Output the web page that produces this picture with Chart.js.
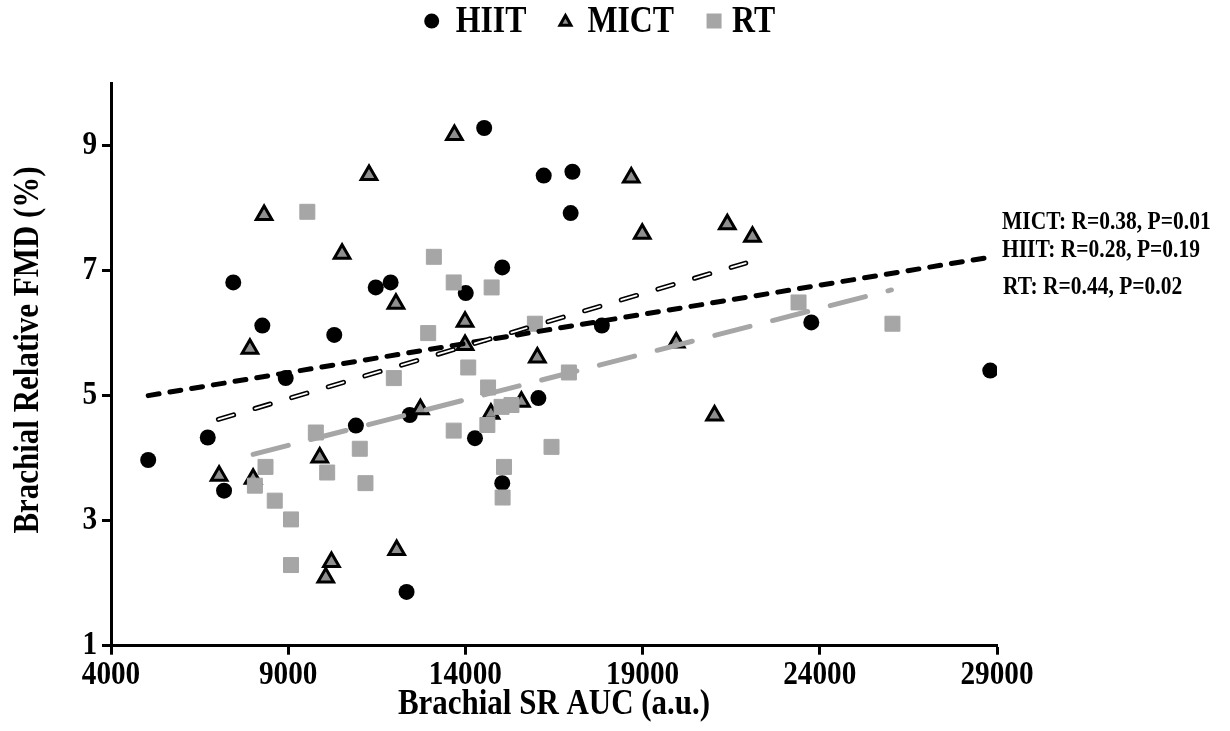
<!DOCTYPE html>
<html>
<head>
<meta charset="utf-8">
<script src="https://cdn.jsdelivr.net/npm/chart.js@4.4.1/dist/chart.umd.min.js"></script>
<style>
html,body{margin:0;padding:0;background:#fff;}
#wrap{position:relative;width:1230px;height:731px;}
</style>
</head>
<body>
<div id="wrap"><canvas id="c" width="1230" height="731"></canvas></div>
<script>
// ---------- data ----------
const seriesNames = ['HIIT', 'MICT', 'RT'];

const hiitX = [5050, 6730, 7190, 7450, 8270, 8930, 10300, 10910, 11470, 11890, 12340, 12430,
               14010, 14270, 14530, 15040, 15040, 16060, 16210, 16970, 17020, 17850, 23760, 28810];
const hiitY = [3.97, 4.33, 3.48, 6.81, 6.12, 5.28, 5.97, 4.52, 6.73, 6.81, 1.86, 4.69,
               6.64, 4.32, 9.28, 7.05, 3.60, 4.96, 8.52, 7.92, 8.58, 6.12, 6.17, 5.40];

const mictX = [7050, 7920, 8010, 8320, 9890, 10060, 10220, 10520, 11280, 12040, 12060, 12730,
               13690, 13990, 13990, 14720, 15580, 16030, 18680, 18990, 19950, 21030, 21390, 22100];
const mictY = [3.72, 5.75, 3.67, 7.89, 4.01, 2.09, 2.34, 7.27, 8.53, 6.47, 2.53, 4.78,
               9.17, 6.18, 5.81, 4.71, 4.90, 5.61, 8.49, 7.59, 5.85, 4.68, 7.74, 7.54];

const rtX = [8060, 8360, 8620, 9080, 9080, 9540, 9780, 10100, 11020, 11180, 11980, 12950, 13110, 13670,
             13670, 14080, 14620, 14640, 14740, 15020, 15300, 15090, 15050, 15960, 16430, 16920, 23400, 26050];
const rtY = [3.56, 3.86, 3.32, 3.02, 2.29, 7.94, 4.41, 3.77, 4.15, 3.60, 5.28, 6.00, 7.22, 6.81,
             4.44, 5.45, 4.53, 5.13, 6.73, 4.82, 4.85, 3.86, 3.37, 6.15, 4.18, 5.37, 6.49, 6.15];

// trend line end points
const hiitFitX = [5050, 28870];
const hiitFitY = [5.00, 7.22];
const mictFitX = [7030, 21910];
const mictFitY = [4.62, 7.12];
const rtFitX = [8010, 26020];
const rtFitY = [4.06, 6.69];

const fitLabels = ['MICT: R=0.38, P=0.01', 'HIIT: R=0.28, P=0.19', 'RT: R=0.44, P=0.02'];

const xTicks = [4000, 9000, 14000, 19000, 24000, 29000];
const yTicks = [1, 3, 5, 7, 9];
const xTitle = 'Brachial SR AUC (a.u.)';
const yTitle = 'Brachial Relative FMD (%)';

// ---------- helpers ----------
const pts = (xs, ys) => xs.map((x, i) => ({x: x, y: ys[i]}));
const FONT = '"Liberation Serif", "Times New Roman", serif';
const GRAY = '#a6a6a6';
const TRI = '#8f8f8f';
const SX = 0.86; // horizontal text condensation seen in the reference

// condense every text drawn on the canvas along its own direction
const condense = {
  id: 'condense',
  beforeDraw(chart) {
    const ctx = chart.ctx;
    if (ctx._condensed) return;
    const orig = ctx.fillText;
    ctx.fillText = function (t, x, y, mw) {
      this.save();
      this.translate(x, y);
      this.scale(SX, 1);
      if (mw === undefined) orig.call(this, t, 0, 0);
      else orig.call(this, t, 0, 0, mw / SX);
      this.restore();
    };
    ctx._condensed = true;
  }
};

const overlay = {
  id: 'overlay',
  afterDraw(chart) {
    const ctx = chart.ctx;
    ctx.save();
    ctx.fillStyle = '#000';
    ctx.textBaseline = 'middle';
    ctx.textAlign = 'left';
    // legend
    ctx.font = 'bold 37px ' + FONT;
    const ly = 21;
    let cx = 431.7;
    ctx.beginPath(); ctx.arc(cx, ly, 7.5, 0, Math.PI * 2); ctx.fillStyle = '#000'; ctx.fill();
    let tx = cx + 24;
    ctx.fillStyle = '#000'; ctx.fillText(seriesNames[0], tx, ly + 1);
    cx = tx + ctx.measureText(seriesNames[0]).width * SX + 39;
    ctx.beginPath();
    ctx.moveTo(cx, ly - 5.5); ctx.lineTo(cx + 5.5, ly + 4.2); ctx.lineTo(cx - 5.5, ly + 4.2); ctx.closePath();
    ctx.fillStyle = TRI; ctx.fill(); ctx.lineWidth = 3; ctx.strokeStyle = '#000'; ctx.stroke();
    tx = cx + 22;
    ctx.fillStyle = '#000'; ctx.fillText(seriesNames[1], tx, ly + 1);
    cx = tx + ctx.measureText(seriesNames[1]).width * SX + 40;
    ctx.fillStyle = GRAY; ctx.fillRect(cx - 7.5, ly - 7.5, 15, 15);
    tx = cx + 18;
    ctx.fillStyle = '#000'; ctx.fillText(seriesNames[2], tx, ly + 1);

    // fit annotations
    ctx.font = 'bold 25px ' + FONT;
    ctx.fillText(fitLabels[0], 1002, 223);
    ctx.fillText(fitLabels[1], 1002, 251);
    ctx.fillText(fitLabels[2], 1003, 288);

    // y title
    ctx.font = 'bold 36px ' + FONT;
    ctx.translate(29, 350);
    ctx.rotate(-Math.PI / 2);
    ctx.textAlign = 'center';
    ctx.fillText(yTitle, 0, 0);
    ctx.restore();
  }
};

const tickFont = {family: FONT, size: 34, weight: 'bold'};

new Chart(document.getElementById('c'), {
  type: 'scatter',
  data: {
    datasets: [
      {label: 'RT fit', data: pts(rtFitX, rtFitY), showLine: true, pointRadius: 0,
       borderColor: GRAY, borderWidth: 5, borderDash: [36.3, 23.3], borderCapStyle: 'round', order: 0},
      {label: 'MICT fit inner', data: pts(mictFitX, mictFitY), showLine: true, pointRadius: 0,
       borderColor: '#fff', borderWidth: 1.8, borderDash: [15.9, 22.3], borderCapStyle: 'round', order: 1},
      {label: 'MICT fit', data: pts(mictFitX, mictFitY), showLine: true, pointRadius: 0,
       borderColor: '#000', borderWidth: 5, borderDash: [15.9, 22.3], borderCapStyle: 'round', order: 2},
      {label: 'HIIT fit', data: pts(hiitFitX, hiitFitY), showLine: true, pointRadius: 0,
       borderColor: '#000', borderWidth: 5, borderDash: [11, 11], borderCapStyle: 'round', order: 3},
      {label: seriesNames[2], data: pts(rtX, rtY), pointStyle: 'rect', pointRadius: 10.6,
       backgroundColor: GRAY, borderColor: GRAY, borderWidth: 1, order: 4},
      {label: seriesNames[1], data: pts(mictX, mictY), pointStyle: 'triangle', pointRadius: 9,
       backgroundColor: TRI, borderColor: '#000', borderWidth: 3, order: 5},
      {label: seriesNames[0], data: pts(hiitX, hiitY), pointStyle: 'circle', pointRadius: 8,
       backgroundColor: '#000', borderColor: '#000', borderWidth: 0, order: 6}
    ]
  },
  options: {
    responsive: false,
    animation: false,
    events: [],
    layout: {padding: {left: 0, right: 233, top: 83, bottom: 0}},
    plugins: {legend: {display: false}, tooltip: {enabled: false}, title: {display: false}},
    scales: {
      x: {
        type: 'linear', min: 4000, max: 29000,
        afterBuildTicks: s => { s.ticks = xTicks.map(v => ({value: v})); },
        afterFit: s => { s.height = 85.3; },
        ticks: {font: tickFont, color: '#000', padding: 0, maxRotation: 0, autoSkip: false,
                callback: v => String(v)},
        grid: {display: true, drawOnChartArea: false, drawTicks: true, tickLength: 9, tickWidth: 3,
               tickColor: '#000', color: '#000'},
        border: {display: true, color: '#000', width: 3},
        title: {display: true, text: xTitle, color: '#000',
                font: {family: FONT, size: 36, weight: 'bold'}, padding: {top: 0, bottom: 5}}
      },
      y: {
        type: 'linear', min: 1, max: 10,
        afterBuildTicks: s => { s.ticks = yTicks.map(v => ({value: v})); },
        afterFit: s => { s.width = 111; },
        ticks: {font: tickFont, color: '#000', padding: 5, autoSkip: false, callback: v => String(v)},
        grid: {display: true, drawOnChartArea: false, drawTicks: true, tickLength: 9, tickWidth: 3,
               tickColor: '#000', color: '#000'},
        border: {display: true, color: '#000', width: 3},
        title: {display: false}
      }
    }
  },
  plugins: [condense, overlay]
});
</script>
</body>
</html>
